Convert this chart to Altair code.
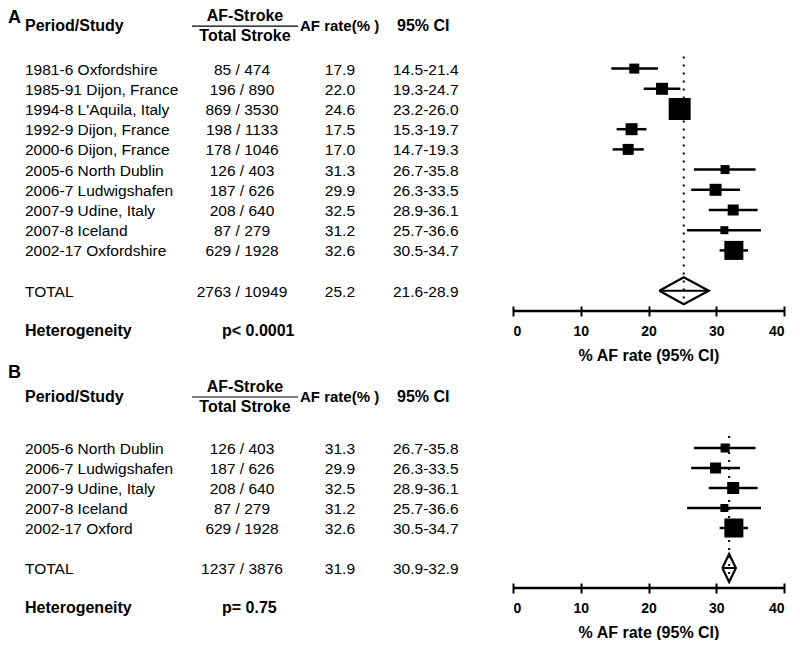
import altair as alt
import pandas as pd

FONT = "Liberation Sans"

# ---------------- data: panel A ----------------
studies_a = ["1981-6 Oxfordshire", "1985-91 Dijon, France", "1994-8 L'Aquila, Italy",
             "1992-9 Dijon, France", "2000-6 Dijon, France", "2005-6 North Dublin",
             "2006-7 Ludwigshafen", "2007-9 Udine, Italy", "2007-8 Iceland", "2002-17 Oxfordshire"]
af_stroke_a = [85, 196, 869, 198, 178, 126, 187, 208, 87, 629]
total_stroke_a = [474, 890, 3530, 1133, 1046, 403, 626, 640, 279, 1928]
rate_a = [17.9, 22.0, 24.6, 17.5, 17.0, 31.3, 29.9, 32.5, 31.2, 32.6]
ci_low_a = [14.5, 19.3, 23.2, 15.3, 14.7, 26.7, 26.3, 28.9, 25.7, 30.5]
ci_high_a = [21.4, 24.7, 26.0, 19.7, 19.3, 35.8, 33.5, 36.1, 36.6, 34.7]
weight_a = [100, 144, 484, 144, 121, 81, 144, 121, 64, 361]
total_counts_a = [2763, 10949]
pooled_a = [25.2, 21.6, 28.9]
het_a = "p< 0.0001"

# ---------------- data: panel B ----------------
studies_b = ["2005-6 North Dublin", "2006-7 Ludwigshafen", "2007-9 Udine, Italy",
             "2007-8 Iceland", "2002-17 Oxford"]
af_stroke_b = [126, 187, 208, 87, 629]
total_stroke_b = [403, 626, 640, 279, 1928]
rate_b = [31.3, 29.9, 32.5, 31.2, 32.6]
ci_low_b = [26.7, 26.3, 28.9, 25.7, 30.5]
ci_high_b = [35.8, 33.5, 36.1, 36.6, 34.7]
weight_b = [81, 121, 144, 64, 361]
total_counts_b = [1237, 3876]
pooled_b = [31.9, 30.9, 32.9]
het_b = "p= 0.75"

ticks = [0, 10, 20, 30, 40]
AXIS_TITLE = "%  AF rate (95%  CI)"


def panel(letter, names, num, den, rate, lo, hi, weight, tot, pooled, het,
          y_domain, height, header_row, diamond_half):
    n = len(names)
    total_row = n + 1
    het_row = n + 3
    axis_row = y_domain[1]

    ys = alt.Scale(domain=y_domain, reverse=True, nice=False, zero=False)
    xs = alt.Scale(domain=[min(ticks), max(ticks)], range=[505, 776], nice=False, zero=False)
    xaxis = alt.Axis(values=ticks, format="d", domain=False, grid=False,
                     tickSize=10, tickWidth=2, tickColor="black", offset=-5,
                     labelFont=FONT, labelFontSize=14, labelFontWeight="bold",
                     labelColor="black", labelPadding=8,
                     title=AXIS_TITLE, titleFont=FONT, titleFontSize=16,
                     titleFontWeight="bold", titleColor="black", titlePadding=9)

    def X(field):
        return alt.X(f"{field}:Q", scale=xs, axis=xaxis)

    def Y(field="row"):
        return alt.Y(f"{field}:Q", scale=ys, axis=None)

    table = pd.DataFrame({
        "row": list(range(n)) + [total_row],
        "name": names + ["TOTAL"],
        "count": [f"{a} / {b}" for a, b in zip(num, den)] + [f"{tot[0]} / {tot[1]}"],
        "rate_txt": [f"{r:.1f}" for r in rate] + [f"{pooled[0]:.1f}"],
        "ci_txt": [f"{a:.1f}-{b:.1f}" for a, b in zip(lo, hi)] + [f"{pooled[1]:.1f}-{pooled[2]:.1f}"],
    })
    studies = pd.DataFrame({"row": list(range(n)), "rate": rate, "lo": lo, "hi": hi, "w": weight})
    pooled_df = pd.DataFrame({"est": [pooled[0]], "lo": [pooled[1]], "hi": [pooled[2]],
                              "row": [total_row], "top": [-0.6],
                              "bottom": [total_row + diamond_half]})
    diamond = pd.DataFrame({
        "x": [pooled[1], pooled[0], pooled[2], pooled[0], pooled[1]],
        "row": [total_row, total_row - diamond_half, total_row, total_row + diamond_half, total_row],
        "o": [0, 1, 2, 3, 4],
    })
    axis_df = pd.DataFrame({"x0": [min(ticks)], "x1": [max(ticks)], "row": [axis_row]})
    header = pd.DataFrame({"row": [header_row], "h1": ["Period/Study"], "h2": ["AF-Stroke"],
                           "h3": ["Total Stroke"], "h4": ["AF rate(% )"], "h5": ["95%  CI"]})
    letter_df = pd.DataFrame({"row": [y_domain[0]], "t": [letter]})
    het_df = pd.DataFrame({"row": [het_row], "a": ["Heterogeneity"], "b": [het]})

    def txt(df, field, x, align, size=15.5, bold=False, dy=1, baseline="middle"):
        return alt.Chart(df).mark_text(
            align=align, baseline=baseline, font=FONT, fontSize=size,
            fontWeight="bold" if bold else "normal", color="black", dy=dy
        ).encode(x=alt.value(x), y=Y(), text=f"{field}:N")

    dotted = alt.Chart(pooled_df).mark_rule(color="black", strokeWidth=2, strokeDash=[2, 6]).encode(
        x=X("est"), y=Y("top"), y2="bottom:Q")
    ci = alt.Chart(studies).mark_rule(color="black", strokeWidth=2.5).encode(
        x=X("lo"), x2="hi:Q", y=Y())
    squares = alt.Chart(studies).mark_square(color="black", filled=True, opacity=1).encode(
        x=X("rate"), y=Y(), size=alt.Size("w:Q", scale=None, legend=None))
    dia = alt.Chart(diamond).mark_line(color="black", strokeWidth=2.2).encode(
        x=X("x"), y=Y(), order=alt.Order("o:Q"))
    mid = alt.Chart(pooled_df).mark_rule(color="black", strokeWidth=2).encode(
        x=X("lo"), x2="hi:Q", y=Y())
    axline = alt.Chart(axis_df).mark_rule(color="black", strokeWidth=2.5).encode(
        x=X("x0"), x2="x1:Q", y=Y())
    hdr_line = alt.Chart(header).mark_rule(color="black", strokeWidth=1.2).encode(
        x=alt.value(184), x2=alt.value(290), y=Y())

    layers = [
        dotted, ci, squares, dia, mid, axline, hdr_line,
        txt(table, "name", 17, "left"),
        txt(table, "count", 234, "center"),
        txt(table, "rate_txt", 347, "right"),
        txt(table, "ci_txt", 385, "left"),
        txt(het_df, "a", 17, "left", size=16, bold=True, dy=0),
        txt(het_df, "b", 214, "left", size=16, bold=True, dy=0),
        txt(header, "h1", 17, "left", size=16, bold=True, dy=0),
        txt(header, "h2", 237, "center", size=16, bold=True, dy=-10),
        txt(header, "h3", 237, "center", size=16, bold=True, dy=10),
        txt(header, "h4", 292, "left", size=15, bold=True, dy=0),
        txt(header, "h5", 389, "left", size=16, bold=True, dy=0),
        txt(letter_df, "t", 0, "left", size=18, bold=True, dy=1, baseline="top"),
    ]
    return alt.layer(*layers).properties(width=780, height=height)


pa = panel("A", studies_a, af_stroke_a, total_stroke_a, rate_a, ci_low_a, ci_high_a,
           weight_a, total_counts_a, pooled_a, het_a,
           y_domain=[-3.0, 12.0], height=303, header_row=-2.1, diamond_half=0.67)
pb = panel("B", studies_b, af_stroke_b, total_stroke_b, rate_b, ci_low_b, ci_high_b,
           weight_b, total_counts_b, pooled_b, het_b,
           y_domain=[-4.25, 7.0], height=225, header_row=-2.55, diamond_half=0.7)

chart = alt.vconcat(pa, pb, spacing=0).properties(padding=0).configure_view(stroke=None)
chart.save("out.html", embed_options={"renderer": "svg", "actions": False})
